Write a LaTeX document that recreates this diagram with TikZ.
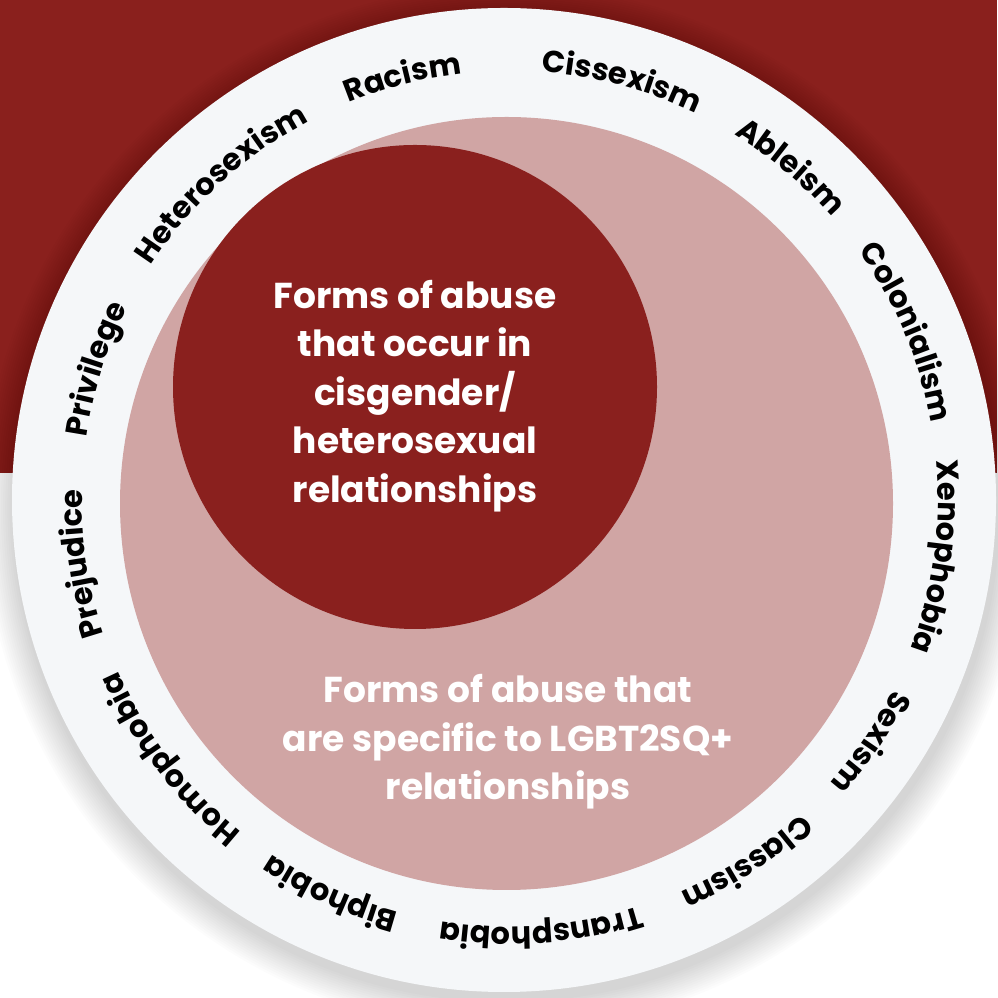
\documentclass[tikz,border=0pt]{standalone}
\usepackage{fontspec}
\setmainfont{Poppins}
\usetikzlibrary{decorations.text,calc}
\definecolor{bgred}{HTML}{8A201D}
\definecolor{ringgray}{HTML}{F5F7F9}
\definecolor{pinkc}{HTML}{D0A5A4}
\definecolor{darkc}{HTML}{8A201E}
\newcommand\ringfont{\fontsize{30.5}{30.5}\selectfont\bfseries\color{black}}
\tikzset{
  disc/.style={circle, inner sep=0pt, outer sep=0pt},
  centertext/.style={text=white, align=center, font=\fontsize{36}{48.5}\selectfont\bfseries},
}
\newcommand\ringlabel[2]{%
  \path[decorate, decoration={text along path, text align=center, text={|\ringfont|#2}}]
    ($(tc)+({#1+50}:428)$) arc[start angle={#1+50}, end angle={#1-50}, radius=428];
}
\begin{document}
\begin{tikzpicture}[x=1pt,y=1pt]
\useasboundingbox (0,0) rectangle (997,998);
\fill[white] (0,0) rectangle (997,998);
\fill[bgred] (0,525) rectangle (997,998);
% soft shadow
\foreach \i in {1,...,14} {
  \fill[black, opacity=0.010] (506,490) circle ({492+\i*2.2});
}
\node[disc, fill=ringgray, minimum size=984pt] (outer) at (504,498) {};
\node[disc, fill=pinkc, minimum size=773pt] (pink) at (506.5,494.5) {};
\node[disc, fill=darkc, minimum size=484pt] (dark) at (415,611) {};
\coordinate (tc) at (510,499);
\ringlabel{104.3}{Racism}
\ringlabel{75.0}{Cissexism}
\ringlabel{49.8}{Ableism}
\ringlabel{22.8}{Colonialism}
\ringlabel{-7.7}{Xenophobia}
\ringlabel{-34}{Sexism}
\ringlabel{-56.9}{Classism}
\ringlabel{-85.8}{Transphobia}
\ringlabel{-114.5}{Biphobia}
\ringlabel{-142.6}{Homophobia}
\ringlabel{-171.4}{Prejudice}
\ringlabel{162.6}{Privilege}
\ringlabel{132.5}{Heterosexism}
\node[centertext] (inner) at (415,602) {Forms of abuse\\that occur in\\cisgender/\\heterosexual\\relationships};
\node[centertext] (outertext) at (508,256) {Forms of abuse that\\are specific to LGBT2SQ+\\relationships};
\end{tikzpicture}
\end{document}
